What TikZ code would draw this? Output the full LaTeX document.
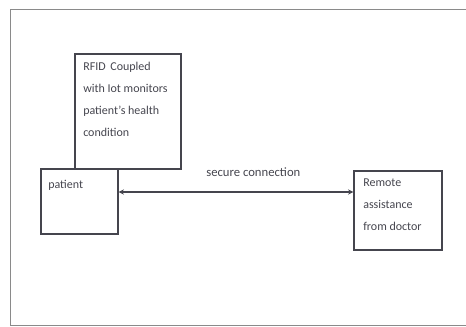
\documentclass[tikz,border=0pt]{standalone}
\usepackage{fontspec}
\setmainfont{Carlito}
\usetikzlibrary{fit,arrows.meta}
\definecolor{ink}{HTML}{45454E}
\definecolor{framec}{HTML}{8A8A8A}
\tikzset{
  box/.style={draw=ink, line width=0.9pt, inner sep=0pt},
  lbl/.style={text=ink, font=\fontsize{9}{16.5}\selectfont, align=left, inner sep=0pt, anchor=north west},
  conn/.style={draw=ink, line width=0.9pt, {Stealth[length=4pt,width=4pt]}-{Stealth[length=4pt,width=4pt]}}
}
\begin{document}
\begin{tikzpicture}[x=0.75pt,y=-0.75pt]
\useasboundingbox (0,0) rectangle (466,327);
\draw[framec, line width=0.7pt] (466,9) -- (10,9) -- (10,325) -- (466,325);
\node[box, fit={(75,54) (181,169)}] (rfid) {};
\node[box, fit={(41,169) (118,234)}] (patient) {};
\node[box, fit={(354,171) (442,250)}] (remote) {};
\node[lbl] (rfidtxt) at (83,62) {RFID\, Coupled\\with Iot monitors\\patient's health\\condition};
\node[lbl] (pattxt) at (48,180) {patient};
\node[lbl] (remtxt) at (363,179) {Remote\\assistance\\from doctor};
\draw[conn] (remote.west |- 0,192) -- node[above=11pt, xshift=13pt, text=ink, font=\fontsize{9.5}{10}\selectfont, inner sep=0pt] (lab) {secure connection} (patient.east |- 0,192);
\end{tikzpicture}
\end{document}
